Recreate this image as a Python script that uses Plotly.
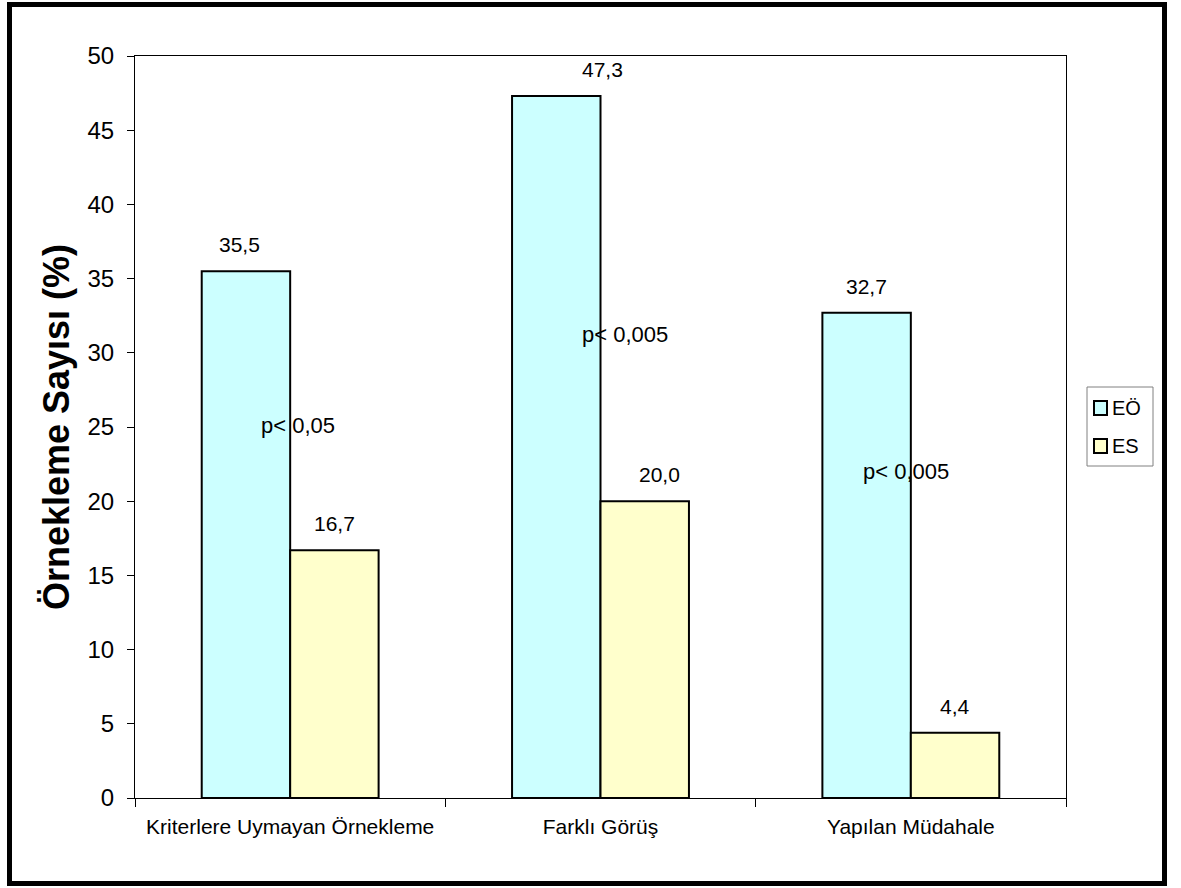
import plotly.graph_objects as go

# Data
categories = ["Kriterlere Uymayan Örnekleme", "Farklı Görüş", "Yapılan Müdahale"]
series_names = ["EÖ", "ES"]
eo_values = [35.5, 47.3, 32.7]
es_values = [16.7, 20.0, 4.4]
p_texts = ["p< 0,05", "p< 0,005", "p< 0,005"]
y_ticks = [0, 5, 10, 15, 20, 25, 30, 35, 40, 45, 50]

FONT = "Arial, Liberation Sans, sans-serif"
COLORS = ["#CCFFFF", "#FFFFCC"]

W, H = 1181, 888
L, R, T, B = 135, 1066, 56, 798  # plot area in pixels


def px(x):
    return (x - L) / (R - L)


def py(y):
    return (B - y) / (B - T)


def fmt(v):
    return f"{v:.1f}".replace(".", ",")


fig = go.Figure()
for name, vals, col in zip(series_names, [eo_values, es_values], COLORS):
    fig.add_trace(go.Bar(
        x=categories, y=vals, name=name,
        marker=dict(color=col, line=dict(color="black", width=2)),
        showlegend=False, hoverinfo="x+y",
    ))

# bar width in pixels (for centering labels on each bar of a group)
cat_w = (R - L) / len(categories)
bargap = 0.43
bar_w = cat_w * (1 - bargap) / 2

# extra horizontal nudges of the value labels (pixels), per series and category
label_nudge = [[-6, 46, 0], [0, 15, 0]]

annotations = []
for s, (vals, sign) in enumerate([(eo_values, -1), (es_values, 1)]):
    for j, (c, v) in enumerate(zip(categories, vals)):
        annotations.append(dict(
            x=c, y=v, xref="x", yref="y", text=fmt(v), showarrow=False,
            xshift=sign * bar_w / 2 + label_nudge[s][j], yanchor="bottom",
            yshift=13, font=dict(family=FONT, size=21, color="black"),
        ))

# significance notes between paired bars
p_pos = [(25.1, 8), (31.2, 24), (22.0, -5)]
for c, t, (yv, dx) in zip(categories, p_texts, p_pos):
    annotations.append(dict(
        x=c, y=yv, xref="x", yref="y", text=t, showarrow=False,
        xshift=dx, font=dict(family=FONT, size=22, color="black"),
    ))

# legend (drawn as box + swatches + labels)
shapes = []
shapes.append(dict(type="rect", xref="paper", yref="paper",
                   x0=px(1087), x1=px(1153), y0=py(466), y1=py(387),
                   line=dict(color="#808080", width=1), fillcolor="white"))
for k, (name, col) in enumerate(zip(series_names, COLORS)):
    yc = 408 + k * 38
    shapes.append(dict(type="rect", xref="paper", yref="paper",
                       x0=px(1094), x1=px(1107), y0=py(yc + 7), y1=py(yc - 7),
                       line=dict(color="black", width=2), fillcolor=col))
    annotations.append(dict(
        x=px(1110), y=py(yc), xref="paper", yref="paper", text=name,
        showarrow=False, xanchor="left", yanchor="middle",
        font=dict(family=FONT, size=20, color="black"),
    ))

# outer chart frame
shapes.append(dict(type="rect", xref="paper", yref="paper",
                   x0=px(9.5), x1=px(1164.5), y0=py(883.5), y1=py(4.5),
                   line=dict(color="black", width=5), layer="above"))

fig.update_layout(
    width=W, height=H,
    margin=dict(l=L, r=W - R, t=T, b=H - B, pad=0),
    paper_bgcolor="white", plot_bgcolor="white",
    barmode="group", bargap=bargap, bargroupgap=0,
    font=dict(family=FONT, color="black"),
    annotations=annotations, shapes=shapes,
    showlegend=False,
)
fig.update_xaxes(
    type="category", tickson="boundaries", ticks="outside", ticklen=8,
    tickcolor="black", tickwidth=1, showline=True, linecolor="black",
    linewidth=1, mirror=True, showgrid=False, zeroline=False,
    tickfont=dict(family=FONT, size=21, color="black"),
    ticklabelstandoff=10,
)
fig.update_yaxes(
    range=[0, 50], tickvals=y_ticks, ticks="outside", ticklen=7,
    tickcolor="black", tickwidth=1, showline=True, linecolor="black",
    linewidth=1, mirror=True, showgrid=False, zeroline=False,
    tickfont=dict(family=FONT, size=24, color="black"),
    ticklabelstandoff=8,
    title=dict(text="<b>Örnekleme Sayısı (%)</b>", standoff=6,
               font=dict(family=FONT, size=36, color="black")),
)

fig.write_html("out.html")
